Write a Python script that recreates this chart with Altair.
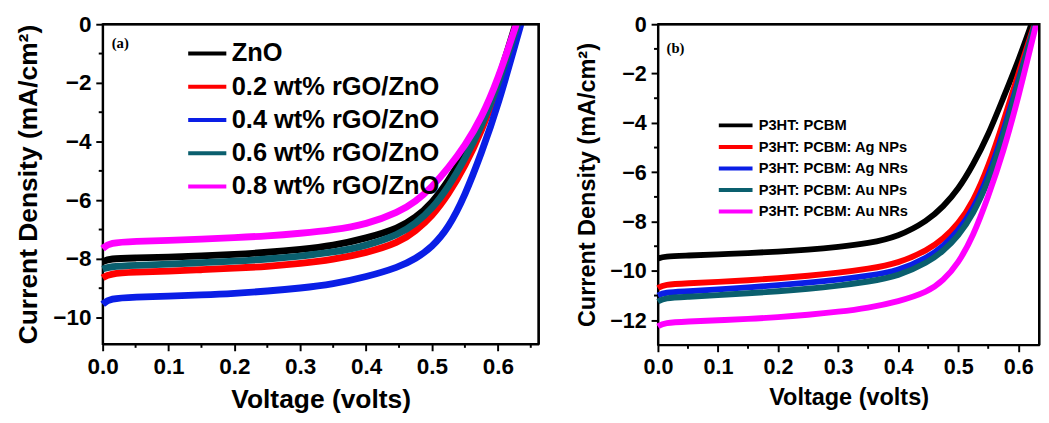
import altair as alt
import pandas as pd

# ---------------- data ----------------
V_GRID = [0.0, 0.01, 0.05, 0.1, 0.15, 0.2, 0.25, 0.3, 0.35, 0.4, 0.45, 0.475,
          0.5, 0.525, 0.55, 0.575, 0.6]

names_a = ["ZnO", "0.2 wt% rGO/ZnO", "0.4 wt% rGO/ZnO", "0.6 wt% rGO/ZnO", "0.8 wt% rGO/ZnO"]
colors = ["#000000", "#ff0000", "#0a1ee6", "#0a5f6e", "#ff00ff"]
voc_a = [0.627, 0.633, 0.635, 0.630, 0.628]
j_zno = [-8.1, -7.99, -7.97, -7.94, -7.9, -7.85, -7.78, -7.68, -7.55, -7.3, -6.95, -6.6, -6.1, -5.35, -4.4, -3.4, -2.0]
j_02 = [-8.65, -8.5, -8.45, -8.42, -8.37, -8.32, -8.26, -8.16, -8.02, -7.8, -7.45, -7.05, -6.55, -5.8, -4.85, -3.65, -2.2]
j_04 = [-9.55, -9.35, -9.3, -9.27, -9.23, -9.18, -9.1, -9.0, -8.86, -8.62, -8.28, -8.0, -7.6, -6.95, -5.85, -4.4, -2.8]
j_06 = [-8.35, -8.26, -8.22, -8.18, -8.13, -8.08, -8.01, -7.91, -7.78, -7.56, -7.17, -6.8, -6.3, -5.55, -4.6, -3.5, -2.1]
j_08 = [-7.65, -7.45, -7.4, -7.37, -7.33, -7.28, -7.22, -7.13, -7.02, -6.83, -6.4, -6.05, -5.55, -4.9, -4.15, -3.2, -1.9]

names_b = ["P3HT: PCBM", "P3HT: PCBM: Ag NPs", "P3HT: PCBM: Ag NRs", "P3HT: PCBM: Au NPs", "P3HT: PCBM: Au NRs"]
voc_b = [0.622, 0.627, 0.628, 0.628, 0.630]
j_ref = [-9.5, -9.41, -9.38, -9.33, -9.28, -9.22, -9.14, -9.03, -8.88, -8.62, -7.95, -7.4, -6.7, -5.7, -4.5, -3.0, -1.5]
j_agnp = [-10.7, -10.55, -10.5, -10.45, -10.38, -10.3, -10.2, -10.08, -9.92, -9.7, -9.15, -8.7, -8.1, -7.2, -5.8, -4.0, -2.0]
j_agnr = [-11.0, -10.87, -10.83, -10.75, -10.67, -10.58, -10.48, -10.36, -10.2, -10.0, -9.45, -9.0, -8.4, -7.5, -6.2, -4.4, -2.3]
j_aunp = [-11.25, -11.1, -11.05, -10.98, -10.91, -10.83, -10.73, -10.6, -10.44, -10.22, -9.65, -9.2, -8.6, -7.7, -6.4, -4.6, -2.4]
j_aunr = [-12.25, -12.1, -12.05, -12.0, -11.95, -11.88, -11.78, -11.66, -11.5, -11.25, -10.85, -10.4, -9.7, -8.6, -7.0, -5.2, -3.0]

x_ticks = [0.0, 0.1, 0.2, 0.3, 0.4, 0.5, 0.6]
x_minor = [0.05, 0.15, 0.25, 0.35, 0.45, 0.55, 0.65]
y_ticks_a = [0, -2, -4, -6, -8, -10]
y_minor_a = [-1, -3, -5, -7, -9]
y_ticks_b = [0, -2, -4, -6, -8, -10, -12]
y_minor_b = [-1, -3, -5, -7, -9, -11]


def build(names, series, vocs):
    rows = []
    for k, (n, js, voc) in enumerate(zip(names, series, vocs)):
        for i, (v, j) in enumerate(zip(V_GRID + [voc], js + [0.0])):
            rows.append({"series": n, "V": v, "J": j, "k": k, "i": i})
    return pd.DataFrame(rows)


df_a = build(names_a, [j_zno, j_02, j_04, j_06, j_08], voc_a)
df_b = build(names_b, [j_ref, j_agnp, j_agnr, j_aunp, j_aunr], voc_b)

FONT = "Liberation Sans"


def panel(df, names, xmax, ymin, W, H, ticks_y, minor_y, label, lab_xy,
          tick_fs, title_fs, leg_fs, leg_x, leg_y, sym_len, row_pad, lab_off, stroke_w):
    xs = alt.Scale(domain=[0, xmax], nice=False, zero=False)
    ys = alt.Scale(domain=[ymin, 0], nice=False, zero=False)
    common = dict(labelFontSize=tick_fs, titleFontSize=title_fs, grid=False,
                  labelFont=FONT, titleFont=FONT, labelFontWeight="bold",
                  titleFontWeight="bold", tickSize=7, tickWidth=2, domainWidth=2,
                  domainColor="black", tickColor="black", labelColor="black",
                  titleColor="black", labelFlush=False)
    xaxis = alt.Axis(values=x_ticks, format=".1f", title="Voltage (volts)",
                     labelPadding=5, titlePadding=9, **common)
    yaxis = alt.Axis(values=ticks_y, format="d", title="Current Density (mA/cm²)",
                     labelPadding=5, titlePadding=11, **common)
    # top and right frame edges: a polyline through the domain corners
    frame_df = pd.DataFrame({"V": [0.0, xmax, xmax], "J": [0.0, 0.0, ymin], "i": [0, 1, 2]})
    frame = alt.Chart(frame_df).mark_line(color="#000000", strokeWidth=2.5).encode(
        x=alt.X("V:Q", scale=xs, axis=xaxis),
        y=alt.Y("J:Q", scale=ys, axis=yaxis),
        order=alt.Order("i:Q"),
    )
    lines = alt.Chart(df).mark_line(strokeWidth=stroke_w, interpolate="basis").encode(
        x=alt.X("V:Q", scale=xs, axis=xaxis),
        y=alt.Y("J:Q", scale=ys, axis=yaxis),
        color=alt.Color("series:N", sort=names,
                        scale=alt.Scale(domain=names, range=colors),
                        legend=alt.Legend(orient="none", legendX=leg_x, legendY=leg_y,
                                          title=None, symbolType="M-1.5,0H1.5",
                                          symbolSize=sym_len * sym_len,
                                          symbolStrokeWidth=4,
                                          labelFontSize=leg_fs, labelFont=FONT,
                                          labelFontWeight="bold", labelColor="black",
                                          rowPadding=row_pad, labelOffset=lab_off,
                                          labelLimit=400)),
        order=alt.Order("i:Q"),
        detail="k:N",
    )
    xm = [v for v in x_minor if v < xmax]
    minor_x = alt.Chart(pd.DataFrame({"V": xm})).mark_rule(color="black", strokeWidth=2).encode(
        x=alt.X("V:Q", scale=xs, axis=xaxis),
        y=alt.value(H), y2=alt.value(H + 4),
    )
    minor_yc = alt.Chart(pd.DataFrame({"J": minor_y})).mark_rule(color="black", strokeWidth=2).encode(
        y=alt.Y("J:Q", scale=ys, axis=yaxis),
        x=alt.value(-4), x2=alt.value(0),
    )
    lab = alt.Chart(pd.DataFrame({"t": [label]})).mark_text(
        font="Liberation Serif", fontWeight="bold", fontSize=15, color="black"
    ).encode(x=alt.value(lab_xy[0]), y=alt.value(lab_xy[1]), text="t:N")
    return alt.layer(lines, frame, minor_x, minor_yc, lab).properties(width=W, height=H)


left = panel(df_a, names_a, 0.662, -10.9, 446, 327, y_ticks_a, y_minor_a, "(a)", (18, 19),
             23, 27, 26, 92, 15, 26, 6, 10, 7)
right = panel(df_b, names_b, 0.635, -13, 390, 328, y_ticks_b, y_minor_b, "(b)", (18, 24),
              22, 24, 15, 66, 90, 23, 0, 10, 6)

chart = alt.hconcat(left, right, spacing=30).resolve_scale(
    color="independent", x="independent", y="independent"
).resolve_legend(color="independent").properties(
    padding={"left": 13, "top": 5, "right": 0, "bottom": 0},
    background="white",
).configure_view(stroke="black", strokeWidth=2)

chart.save("out.html", embed_options={"renderer": "svg", "actions": False})
